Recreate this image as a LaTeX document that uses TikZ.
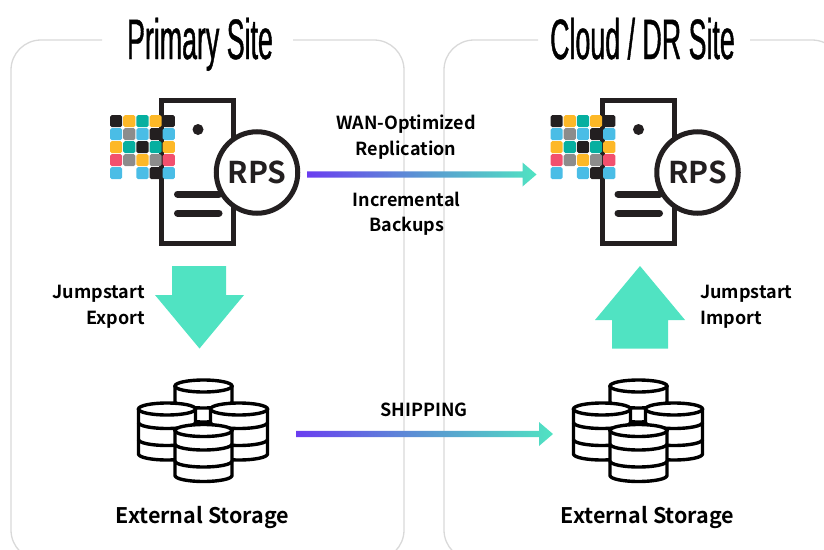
\documentclass[tikz,border=0pt]{standalone}
\usepackage{fontspec}
\newfontfamily\titlefont[FakeStretch=0.47,FakeBold=0.7]{Liberation Sans}
\newfontfamily\labelfont{Noto Sans CJK SC Bold}
\usetikzlibrary{calc}
\definecolor{mint}{HTML}{50E3C2}
\definecolor{violet}{HTML}{6A3DF0}
\definecolor{midblue}{HTML}{5A96D2}
\definecolor{ink}{HTML}{231F20}
\definecolor{cyan1}{HTML}{4ABDE6}
\definecolor{gold}{HTML}{FDB827}
\definecolor{teal1}{HTML}{06AFA0}
\definecolor{rose}{HTML}{F2506E}
\definecolor{gray1}{HTML}{8C8C8C}
\tikzset{
  x=1pt,y=-1pt,
  frame/.style={draw=black!15,line width=1.3pt},
  sitetitle/.style={font=\titlefont\fontsize{57}{57}\selectfont,text=black,inner sep=0pt,anchor=base},
  lbl/.style={font=\labelfont\fontsize{18}{25.5}\selectfont,align=center,text=black,inner sep=0pt},
  leftlabel/.style={font=\labelfont\fontsize{18}{26.5}\selectfont,align=right,text=black,inner sep=0pt,anchor=east},
  rightlabel/.style={font=\labelfont\fontsize{18}{26.5}\selectfont,align=left,text=black,inner sep=0pt,anchor=west},
  storlabel/.style={font=\labelfont\fontsize{21.5}{26}\selectfont,text=black,inner sep=0pt},
  ink3/.style={draw=ink,line width=5pt},
  rpscircle/.style={circle,draw=ink,line width=5pt,fill=white,minimum size=81.5pt,inner sep=0pt,font=\labelfont\fontsize{30}{30}\selectfont,text=ink},
  bigarrow/.style={fill=mint,draw=none},
}
\newcommand{\cell}[3]{\fill[#3,rounded corners=1.8pt] (#1,#2) rectangle ++(12.2,12.2);}
\newcommand{\rpsserver}[2]{%
\begin{scope}[shift={(#1,0)}]
  \draw[ink3,fill=white] (161.5,100.5) rectangle (233.5,243.5);
  \foreach \xx/\yy/\cc in {
    110/115/ink,123.2/115/gold,136.4/115/teal1,149.5/115/gold,162.7/115/ink,
    110/128/cyan1,123.2/128/gray1,136.4/128/cyan1,149.5/128/ink,162.7/128/cyan1,
    110/141/gold,123.2/141/teal1,136.4/141/ink,149.5/141/teal1,162.7/141/gold,
    110/154/rose,123.2/154/gray1,136.4/154/gold,149.5/154/gray1,162.7/154/rose,
    110/167/cyan1,136.4/167/cyan1,149.5/167/ink,162.7/167/cyan1}{\cell{\xx}{\yy}{\cc}}
  \fill[ink] (198,129.5) circle (5.5);
  \draw[ink,line width=7pt,line cap=round] (177.5,194) -- (219,194);
  \draw[ink,line width=7pt,line cap=round] (177.5,213) -- (219,213);
  \node[rpscircle] (#2) at (257,172.5) {RPS};
\end{scope}}
% centre x, top-ellipse centre y, half width, body height
\newcommand{\diskbody}[4]{%
  \fill[white] (#1-#3,#2) -- (#1-#3,#2+#4) arc[start angle=180,end angle=0,x radius=#3,y radius=6] -- (#1+#3,#2) arc[start angle=0,end angle=-180,x radius=#3,y radius=6] -- cycle;
  \draw[black,line width=3.4pt,line join=round] (#1-#3,#2) -- (#1-#3,#2+#4) arc[start angle=180,end angle=0,x radius=#3,y radius=6] -- (#1+#3,#2);
  \draw[black,line width=3.4pt] (#1,#2) ellipse[x radius=#3,y radius=6];}
\newcommand{\diskband}[4]{%
  \draw[black,line width=3.4pt] (#1-#3,#2+#4) arc[start angle=180,end angle=0,x radius=#3,y radius=6];}
\newcommand{\bandeddisk}[3]{%
  \diskbody{#1}{#2}{#3}{45}\diskband{#1}{#2}{#3}{13.5}\diskband{#1}{#2}{#3}{30.5}}
\newcommand{\storage}[3]{%
\begin{scope}[shift={(#1,#2)}]
  \diskbody{203.5}{386}{28.5}{30}
  \diskband{203.5}{386}{28.5}{16}
  \bandeddisk{167}{409}{28.5}
  \bandeddisk{239}{409}{28.5}
  \bandeddisk{203.5}{430.5}{28.5}
  \coordinate (#3) at (203.5,433);
\end{scope}}
\newcommand{\gradarrow}[2]{%
  \path[left color=violet,right color=mint,middle color=midblue]
   let \p1=(#1),\p2=(#2) in
   (\x1,\y1-3.2pt) -- (\x2-14pt,\y1-3.2pt) -- (\x2-14pt,\y1-12pt) -- (\x2,\y1) -- (\x2-14pt,\y1+12pt) -- (\x2-14pt,\y1+3.2pt) -- (\x1,\y1+3.2pt) -- cycle;}
\begin{document}
\begin{tikzpicture}
\useasboundingbox (0,0) rectangle (824,549);
\begin{scope}
\clip (0,0) rectangle (824,549);
\draw[frame,rounded corners=30pt] (102,40) -- (11,40) -- (11,560) -- (404,560) -- (404,40) -- (293,40);
\draw[frame,rounded corners=30pt] (538,40) -- (444,40) -- (444,560) -- (842,560) -- (842,40) -- (750,40);
\end{scope}
\node[sitetitle] (t1) at (200,59) {Primary Site};
\node[sitetitle] (t2) at (642.5,59) {Cloud / DR Site};

\rpsserver{0}{rpsa}
\rpsserver{440.5}{rpsb}

\coordinate (wanstart) at (307,174.5);
\coordinate (wanend) at (536.5,174.5);
\gradarrow{wanstart}{wanend}
\node[lbl] (wan) at (406,137) {WAN-Optimized\\Replication};
\node[lbl] (inc) at (406.5,213.5) {Incremental\\Backups};

\fill[bigarrow] (172,266) -- (226,266) -- (226,295) -- (244,295) -- (199.5,348.5) -- (155,295) -- (172,295) -- cycle;
\fill[bigarrow] (612,348.5) -- (668,348.5) -- (668,320) -- (685,320) -- (640,266) -- (595,320) -- (612,320) -- cycle;
\node[leftlabel] (jse) at (145,307) {Jumpstart\\Export};
\node[rightlabel] (jsi) at (700,307) {Jumpstart\\Import};

\storage{0}{0}{stora}
\storage{435}{0}{storb}
\coordinate (shipstart) at (296,434);
\coordinate (shipend) at (553,434);
\gradarrow{shipstart}{shipend}
\node[lbl] (ship) at (424,410) {SHIPPING};
\node[storlabel] (sl1) at (202.5,518) {External Storage};
\node[storlabel] (sl2) at (647.5,518) {External Storage};
\end{tikzpicture}
\end{document}
